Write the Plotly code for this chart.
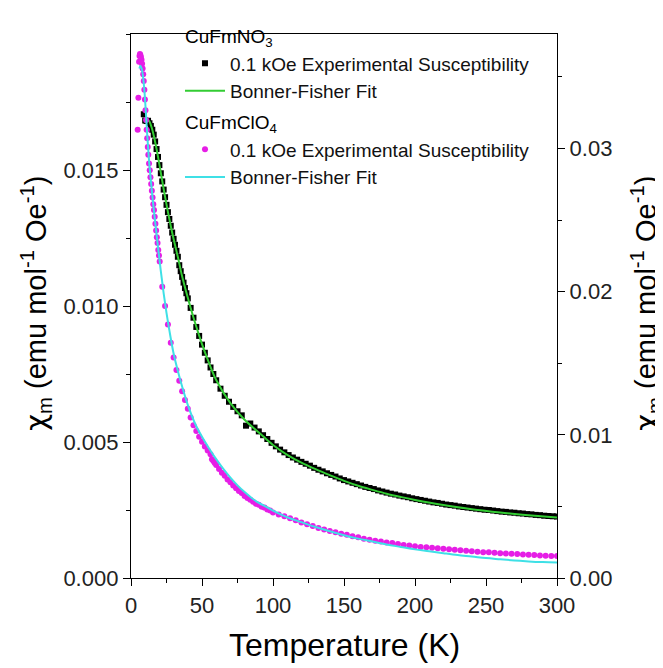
import plotly.graph_objects as go

# ---------------- data ----------------
# CuFmNO3 (left axis)
t_no3 = [9, 10, 11, 12, 13, 14, 15, 16, 17, 18, 19, 20, 21, 22, 23, 24, 25, 26, 27, 28, 29, 30,
         31, 32, 33, 34, 35, 36, 37, 38, 39, 40, 42, 44, 46, 48, 50, 52, 54, 56, 58, 60, 63, 66,
         69, 72, 75, 78, 81, 84, 87, 90, 93, 96, 99,
         102, 105, 108, 111, 114, 117, 120, 123, 126, 129, 132, 135, 138, 141, 144, 147, 150,
         153, 156, 159, 162, 165, 168, 171, 174, 177, 180, 183, 186, 189, 192, 195, 198, 201,
         204, 207, 210, 213, 216, 219, 222, 225, 228, 231, 234, 237, 240, 243, 246, 249, 252,
         255, 258, 261, 264, 267, 270, 273, 276, 279, 282, 285, 288, 291, 294, 297, 300]
chi_no3 = [0.01705, 0.01682, 0.01680, 0.01681, 0.01672, 0.01662, 0.01648, 0.01630, 0.01605,
           0.01577, 0.01548, 0.01518, 0.01488, 0.01458, 0.01428, 0.01400, 0.01372, 0.01345,
           0.01320, 0.01295, 0.01270, 0.01247, 0.01225, 0.01203, 0.01181, 0.01150, 0.01128,
           0.01107, 0.01086, 0.01066, 0.01047, 0.01028, 0.00993, 0.00957, 0.00923, 0.00890,
           0.00858, 0.00828, 0.00800, 0.00774, 0.00750, 0.00727, 0.00696, 0.00670, 0.00648,
           0.00629, 0.00613, 0.00598, 0.00560, 0.00568, 0.00553, 0.00539, 0.00525, 0.00511,
           0.00497,
           0.00484, 0.00472, 0.00462, 0.00452, 0.00443, 0.00435, 0.00427, 0.00420, 0.00413,
           0.00405, 0.00398, 0.00392, 0.00385, 0.00379, 0.00373, 0.00366, 0.00360, 0.00355,
           0.00350, 0.00345, 0.00340, 0.00335, 0.00331, 0.00327, 0.00322, 0.00318, 0.00314,
           0.00310, 0.00307, 0.00303, 0.00300, 0.00297, 0.00293, 0.00290, 0.00287, 0.00284,
           0.00281, 0.00278, 0.00276, 0.00273, 0.00270, 0.00268, 0.00266, 0.00263, 0.00261,
           0.00259, 0.00257, 0.00255, 0.00253, 0.00251, 0.00250, 0.00248, 0.00246, 0.00244,
           0.00243, 0.00241, 0.00240, 0.00238, 0.00237, 0.00235, 0.00234, 0.00232, 0.00231,
           0.00229, 0.00228, 0.00227, 0.00226]

t_no3_fit = [10, 11, 12, 13, 14, 15, 16, 17, 18, 19, 20, 22, 24, 26, 28, 30, 33, 36, 40, 45, 50,
             55, 60, 70, 80, 90, 100, 110, 120, 130, 140, 150, 160, 170, 180, 190, 200, 220,
             240, 260, 280, 300]
chi_no3_fit = [0.01672, 0.01682, 0.01684, 0.01678, 0.01665, 0.01648, 0.01627, 0.01603, 0.01577,
               0.01549, 0.01520, 0.01460, 0.01401, 0.01346, 0.01294, 0.01246, 0.01180, 0.01109,
               0.01030, 0.00940, 0.00860, 0.00790, 0.00728, 0.00643, 0.00582, 0.00535, 0.00489,
               0.00453, 0.00424, 0.00400, 0.00378, 0.00357, 0.00339, 0.00324, 0.00310, 0.00298,
               0.00287, 0.00268, 0.00253, 0.00241, 0.00231, 0.00222]

# CuFmClO4 (right axis)
t_clo4 = [4.7, 5.2, 5.7, 6.0, 6.3, 6.6, 7.0, 7.4, 7.8, 8.2, 8.6, 9.0, 9.4, 9.8, 10.2, 10.6, 11.0,
          11.4, 11.8, 12.2, 12.7, 13.2, 13.7, 14.2, 14.7, 15.2, 15.7, 16.2, 16.7, 17.2, 17.7,
          18.2, 18.7, 19.2, 19.7, 20.2, 22, 24, 26, 28, 30, 32, 34, 36, 38, 40, 42, 44, 46, 48,
          50, 52, 54, 56, 57, 58, 59, 60, 62, 64, 66, 68, 70, 72, 74, 76, 78, 80, 82, 84, 86,
          88, 90, 92, 94, 96, 98, 100,
          104, 108, 112, 116, 120, 124, 128, 132, 136, 140, 144, 148, 152, 156, 160, 164, 168,
          172, 176, 180, 184, 188, 192, 196, 200, 204, 208, 212, 216, 220, 224, 228, 232, 236,
          240, 244, 248, 252, 256, 260, 264, 268, 272, 276, 280, 284, 288, 292, 296, 300]
chi_clo4 = [0.03132, 0.03355, 0.03606, 0.03647, 0.03660, 0.03653, 0.03640, 0.03620, 0.03592,
            0.03559, 0.03518, 0.03471, 0.03410, 0.03342, 0.03267, 0.03200, 0.03132, 0.03071,
            0.03010, 0.02956, 0.02895, 0.02848, 0.02800, 0.02753, 0.02705, 0.02658, 0.02611,
            0.02570, 0.02523, 0.02475, 0.02428, 0.02381, 0.02340, 0.02292, 0.02252, 0.02211,
            0.02035, 0.01900, 0.01771, 0.01643, 0.01541, 0.01453, 0.01378, 0.01304, 0.01243,
            0.01182, 0.01121, 0.01067, 0.01026, 0.00986, 0.00952, 0.00918, 0.00891, 0.00864,
            0.00830, 0.00817, 0.00803, 0.00789, 0.00762, 0.00735, 0.00715, 0.00688, 0.00668,
            0.00647, 0.00627, 0.00607, 0.00593, 0.00573, 0.00559, 0.00546, 0.00532, 0.00519,
            0.00512, 0.00498, 0.00492, 0.00478, 0.00471, 0.00458,
            0.00444, 0.00431, 0.00417, 0.00404, 0.00387, 0.00376, 0.00363, 0.00349, 0.00339,
            0.00329, 0.00319, 0.00309, 0.00302, 0.00292, 0.00285, 0.00275, 0.00268, 0.00261,
            0.00255, 0.00248, 0.00244, 0.00238, 0.00231, 0.00227, 0.00221, 0.00217, 0.00214,
            0.00211, 0.00207, 0.00204, 0.00200, 0.00197, 0.00194, 0.00190, 0.00187, 0.00184,
            0.00180, 0.00180, 0.00177, 0.00173, 0.00171, 0.00169, 0.00167, 0.00165, 0.00162,
            0.00160, 0.00158, 0.00156, 0.00154, 0.00153]

t_clo4_fit = [5.9, 6.6, 7.5, 8.5, 9.5, 10.5, 11.5, 12.5, 13.5, 15, 17, 19, 21, 23, 25, 27, 30, 33,
              36, 40, 45, 50, 55, 60, 65, 70, 75, 80, 85, 90, 95, 100, 110, 120, 130, 140, 150,
              160, 170, 180, 190, 200, 210, 220, 230, 240, 250, 260, 270, 280, 290, 300]
chi_clo4_fit = [0.03559, 0.03579, 0.03559, 0.03498, 0.03396, 0.03247, 0.03085, 0.02942, 0.02827,
                0.02672, 0.02489, 0.02313, 0.02144, 0.01988, 0.01852, 0.01731, 0.01568, 0.01446,
                0.01338, 0.01209, 0.01081, 0.00986, 0.00905, 0.00830, 0.00762, 0.00701, 0.00647,
                0.00600, 0.00559, 0.00525, 0.00498, 0.00471, 0.00424, 0.00390, 0.00356, 0.00326,
                0.00299, 0.00275, 0.00255, 0.00234, 0.00217, 0.00200, 0.00187, 0.00173, 0.00160,
                0.00150, 0.00139, 0.00131, 0.00123, 0.00116, 0.00111, 0.00108]

x_ticks = [0, 50, 100, 150, 200, 250, 300]
y_left_ticks = [0.000, 0.005, 0.010, 0.015]
y_right_ticks = [0.00, 0.01, 0.02, 0.03]

# ---------------- figure ----------------
FONT = "Liberation Sans, Arial, sans-serif"
fig = go.Figure()

fig.add_trace(go.Scatter(
    x=t_no3, y=chi_no3, mode="markers", name="0.1 kOe Experimental Susceptibility",
    marker=dict(symbol="square", size=6, color="black"),
    legendgroup="no3", legendgrouptitle=dict(text="CuFmNO<sub>3</sub>", font=dict(size=19)),
    yaxis="y"))
fig.add_trace(go.Scatter(
    x=t_no3_fit, y=chi_no3_fit, mode="lines", name="Bonner-Fisher Fit",
    line=dict(color="#33cc33", width=2, shape="spline"),
    legendgroup="no3", yaxis="y"))
fig.add_trace(go.Scatter(
    x=t_clo4, y=chi_clo4, mode="markers", name="0.1 kOe Experimental Susceptibility",
    marker=dict(symbol="circle", size=6, color="#e61ee6"),
    legendgroup="clo4", legendgrouptitle=dict(text="CuFmClO<sub>4</sub>", font=dict(size=19)),
    yaxis="y2"))
fig.add_trace(go.Scatter(
    x=t_clo4_fit, y=chi_clo4_fit, mode="lines", name="Bonner-Fisher Fit",
    line=dict(color="#3fe0e6", width=2, shape="spline"),
    legendgroup="clo4", yaxis="y2"))

axis_common = dict(showline=True, linecolor="black", linewidth=1.3, ticks="outside",
                   ticklen=7, tickwidth=1.3, tickcolor="black", showgrid=False, zeroline=False,
                   tickfont=dict(family=FONT, size=22, color="#222"))

# the page body adds an 8 px margin, so the figure is sized/offset to compensate
fig.update_layout(
    width=655, height=660,
    margin=dict(l=123, r=106, t=9, b=90),
    paper_bgcolor="white", plot_bgcolor="white",
    font=dict(family=FONT, color="black"),
    showlegend=True,
    legend=dict(x=0.115, y=1.032, xanchor="left", yanchor="top", bgcolor="rgba(0,0,0,0)",
                font=dict(family=FONT, size=19, color="#111"), traceorder="grouped",
                tracegroupgap=3, itemwidth=40),
    xaxis=dict(range=[0, 300], tickvals=x_ticks, mirror=True,
               minor=dict(ticks="outside", ticklen=4, tickwidth=1.3, tickcolor="black", dtick=25),
               **axis_common),
    yaxis=dict(range=[0, 0.020], tickvals=y_left_ticks, tickformat=".3f",
               minor=dict(ticks="outside", ticklen=4, tickwidth=1.3, tickcolor="black", dtick=0.0025),
               **axis_common),
    yaxis2=dict(range=[0, 0.038], tickvals=y_right_ticks, tickformat=".2f", overlaying="y",
                side="right",
                minor=dict(ticks="outside", ticklen=4, tickwidth=1.3, tickcolor="black", dtick=0.005),
                **axis_common),
)

ytitle = ('<span style="font-family:DejaVu Sans">χ</span><sub>m</sub> '
          '(emu mol<sup>-1</sup> Oe<sup>-1</sup>)')
fig.add_annotation(text="Temperature (K)", xref="paper", yref="paper", x=0.5, y=-0.123,
                   xanchor="center", yanchor="middle", showarrow=False,
                   font=dict(family=FONT, size=32, color="black"))
fig.add_annotation(text=ytitle, xref="paper", yref="paper", x=-0.222, y=0.505,
                   xanchor="center", yanchor="middle", textangle=-90, showarrow=False,
                   font=dict(family=FONT, size=29, color="black"))
fig.add_annotation(text=ytitle, xref="paper", yref="paper", x=1.21, y=0.505,
                   xanchor="center", yanchor="middle", textangle=-90, showarrow=False,
                   font=dict(family=FONT, size=29, color="black"))

fig.write_html("out.html")
